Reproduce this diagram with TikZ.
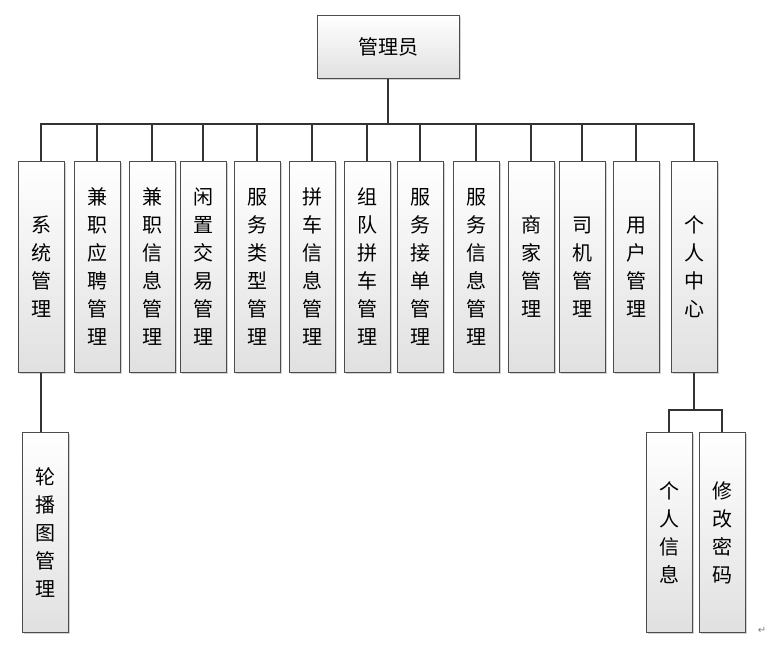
\documentclass[tikz,border=0pt]{standalone}
\usepackage{fontspec}
\newfontfamily\cjk{Noto Sans CJK SC}
\newfontfamily\djvfont{DejaVu Sans}
\usetikzlibrary{shadows}
\begin{document}
\begin{tikzpicture}[x=1pt,y=-1pt,
  box/.style={draw=black!70,line width=0.8pt,top color=white,bottom color=black!12,
    drop shadow={shadow xshift=2pt,shadow yshift=-2pt,opacity=0.35},
    font=\cjk\fontsize{20}{28}\selectfont,align=center,inner sep=0pt},
  ln/.style={line width=1.2pt,black!80}]
\useasboundingbox (0,0) rectangle (774,650);
\def\vb#1#2#3#4#5{\node[box,minimum width=46pt,minimum height=#4pt,anchor=north] (#1) at (#2,#3) {#5};}
\node[box,minimum width=142pt,minimum height=63pt,anchor=north] (root) at (388,15) {管理员};
\vb{a}{41}{161}{211}{系\\统\\管\\理}
\vb{b}{97}{161}{211}{兼\\职\\应\\聘\\管\\理}
\vb{c}{152}{161}{211}{兼\\职\\信\\息\\管\\理}
\vb{d}{203}{161}{211}{闲\\置\\交\\易\\管\\理}
\vb{e}{257}{161}{211}{服\\务\\类\\型\\管\\理}
\vb{f}{312}{161}{211}{拼\\车\\信\\息\\管\\理}
\vb{g}{367}{161}{211}{组\\队\\拼\\车\\管\\理}
\vb{h}{420}{161}{211}{服\\务\\接\\单\\管\\理}
\vb{i}{476}{161}{211}{服\\务\\信\\息\\管\\理}
\vb{j}{531}{161}{211}{商\\家\\管\\理}
\vb{k}{582}{161}{211}{司\\机\\管\\理}
\vb{l}{636}{161}{211}{用\\户\\管\\理}
\vb{m}{694}{161}{211}{个\\人\\中\\心}
\vb{n}{45}{432}{200}{轮\\播\\图\\管\\理}
\vb{o}{669}{432}{200}{个\\人\\信\\息}
\vb{p}{722}{432}{200}{修\\改\\密\\码}
\coordinate (bus) at (388,124);
\draw[ln] (root.south) -- (bus);
\draw[ln] (a.north) |- (m.north |- bus) -- (m.north);
\foreach \c in {b,c,d,e,f,g,h,i,j,k,l}{\draw[ln] (\c.north) -- (\c.north |- bus);}
\draw[ln] (a.south) -- (a.south |- n.north);
\coordinate (mb) at (694,410);
\draw[ln] (m.south) -- (mb);
\draw[ln] (o.north) |- (mb) -| (p.north);
\node[text=black!50,font=\djvfont\fontsize{10}{10}\selectfont] (ret) at (762,630) {↵};
\end{tikzpicture}
\end{document}
